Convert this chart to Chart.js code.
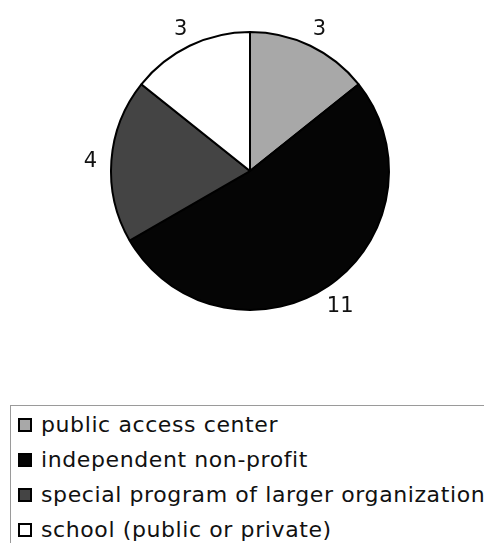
<!DOCTYPE html>
<html>
<head>
<meta charset="utf-8">
<script src="https://cdn.jsdelivr.net/npm/chart.js@4"></script>
<style>
  html, body { margin: 0; padding: 0; background: #fff; }
  body { width: 484px; height: 543px; position: relative; overflow: hidden; font-family: "DejaVu Sans", Verdana, sans-serif; }
  #wrap { position: absolute; left: 0; top: 0; width: 484px; height: 400px; }
  #legend { position: absolute; left: 10px; top: 405px; width: 540px; height: 160px; border: 1px solid #9a9a9a; box-sizing: border-box; padding-top: 1px; }
  .item { height: 35px; line-height: 35px; white-space: nowrap; font-size: 22px; letter-spacing: 0.6px; color: #111; }
  .box { display: inline-block; width: 10px; height: 10px; border: 2px solid #000; margin: 0 9px 0 7px; vertical-align: 0px; }
</style>
</head>
<body>
<div id="wrap"><canvas id="myChart"></canvas></div>
<div id="legend"></div>
<script>
// datos del grafico
const categorias = ["public access center", "independent non-profit", "special program of larger organization", "school (public or private)"];
const valores = [3, 11, 4, 3];
const colores = ["#a8a8a8", "#050505", "#444444", "#ffffff"];

// etiquetas con el valor fuera de cada porcion
const etiquetasPlugin = {
    id: "etiquetas",
    afterDatasetsDraw(chart) {
        const ctx = chart.ctx;
        const meta = chart.getDatasetMeta(0);
        ctx.save();
        ctx.font = "21px 'DejaVu Sans', Verdana, sans-serif";
        ctx.fillStyle = "#111";
        ctx.textAlign = "center";
        ctx.textBaseline = "middle";
        meta.data.forEach((arc, i) => {
            const a = (arc.startAngle + arc.endAngle) / 2;
            const r = arc.outerRadius + 21;
            ctx.fillText(String(valores[i]), arc.x + Math.cos(a) * r, arc.y + Math.sin(a) * r + 3);
        });
        ctx.restore();
    }
};

let miCanvas = document.getElementById("myChart").getContext("2d");

var chart = new Chart(miCanvas, {
    type: "pie",
    data: {
        labels: categorias,
        datasets: [{
            data: valores,
            backgroundColor: colores,
            borderColor: "#000",
            borderWidth: 2
        }]
    },
    options: {
        responsive: true,
        maintainAspectRatio: false,
        animation: false,
        layout: { padding: { left: 110, right: 94, top: 31, bottom: 89 } },
        plugins: {
            legend: { display: false },
            tooltip: { enabled: false }
        }
    },
    plugins: [etiquetasPlugin]
});

// leyenda en html
const legend = document.getElementById("legend");
categorias.forEach((c, i) => {
    const div = document.createElement("div");
    div.className = "item";
    div.innerHTML = '<span class="box" style="background:' + colores[i] + '"></span>' + c;
    legend.appendChild(div);
});
</script>
</body>
</html>
